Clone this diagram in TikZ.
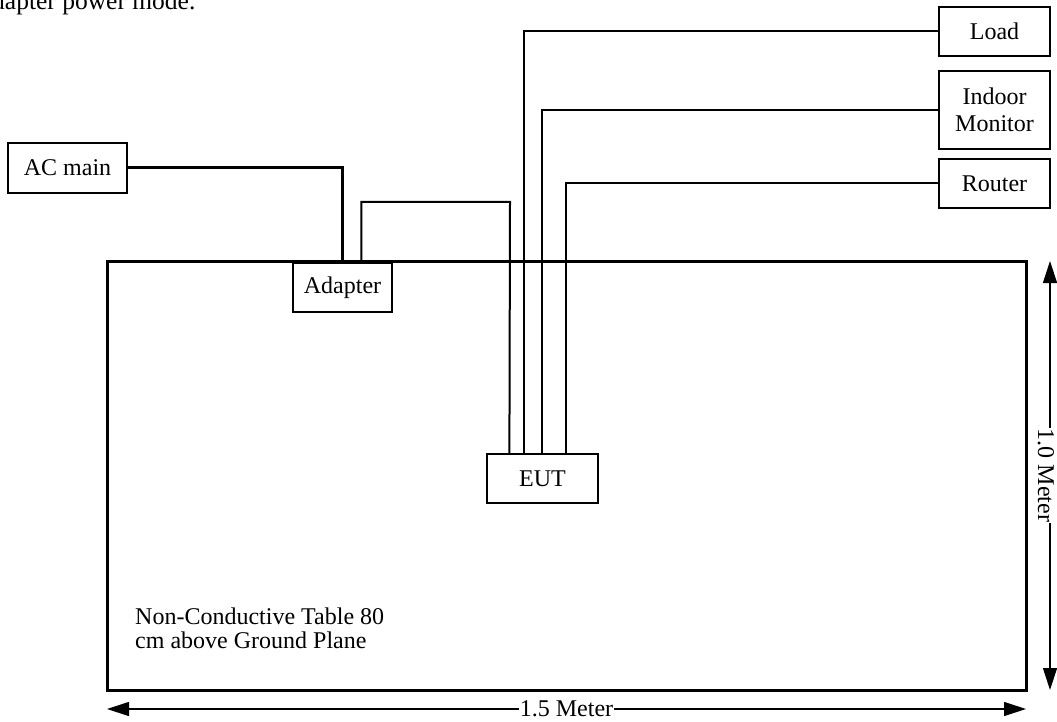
\documentclass[tikz,border=0pt]{standalone}
\usepackage{fontspec}
\setmainfont{Liberation Serif}
\usetikzlibrary{calc,arrows.meta}
\begin{document}
\begin{tikzpicture}[x=1pt,y=-1pt,
  box/.style={draw,line width=1.2pt,fill=white,inner sep=0pt,font=\fontsize{24}{27}\selectfont,align=center},
  wire/.style={line width=2pt},
  mainwire/.style={line width=3pt},
  dim/.style={line width=1.2pt,{Triangle[length=22pt,width=14pt]}-{Triangle[length=22pt,width=14pt]}},
  lbl/.style={font=\fontsize{24}{27}\selectfont,fill=white,inner sep=0.5pt},
  txt/.style={font=\fontsize{24}{24}\selectfont,inner sep=0pt}]
\useasboundingbox (0,0) rectangle (1057,722);
% caption fragment (cut off at the top and left)
\node[inner sep=0pt,font=\fontsize{25.5}{27}\selectfont,anchor=base west] (cap) at (-8,10) {dapter power mode.};
% table
\node[draw,line width=3pt,inner sep=0pt,minimum width=919pt,minimum height=429pt] (table) at (566.5,475.5) {};
\node[txt,anchor=north west,align=left] (tabletext) at (135,607.6) {Non-Conductive Table 80\\cm above Ground Plane};
% boxes
\node[box,minimum width=119pt,minimum height=50pt] (acmain) at (67.5,168) {AC main};
\node[box,minimum width=99pt,minimum height=49pt] (adapter) at (342.5,287.5) {Adapter};
\node[box,minimum width=111pt,minimum height=49pt] (load) at (994.5,31.5) {Load};
\node[box,minimum width=111pt,minimum height=78pt] (indoor) at (994.5,110) {Indoor\\Monitor};
\node[box,minimum width=111pt,minimum height=49pt] (router) at (994.5,183.5) {Router};
\node[box,minimum width=111pt,minimum height=49pt] (eut) at (542.5,478.5) {EUT};
% wires
\coordinate (j1) at (510,202);
\draw[mainwire] (acmain.east) -| ($(adapter.north west)+(50,-1.5)$);
\draw[wire] ($(adapter.north west)+(69,-1.5)$) |- (j1) -- ($(eut.north west)+(23,0)$);
\draw[wire] (load.west) -| ($(eut.north west)+(38,0)$);
\draw[wire] (indoor.west) -| ($(eut.north west)+(56,0)$);
\draw[wire] (router.west) -| ($(eut.north west)+(80,0)$);
% dimensions
\coordinate (dl) at (107,709);
\coordinate (dr) at (1026,709);
\draw[dim] (dl) -- node[lbl] (w) {1.5 Meter} (dr);
\coordinate (dt) at (1050,261);
\coordinate (db) at (1050,690);
\draw[dim] (dt) -- (db);
\node[lbl,rotate=-90] (h) at (1046,475.5) {1.0 Meter};
\end{tikzpicture}
\end{document}
